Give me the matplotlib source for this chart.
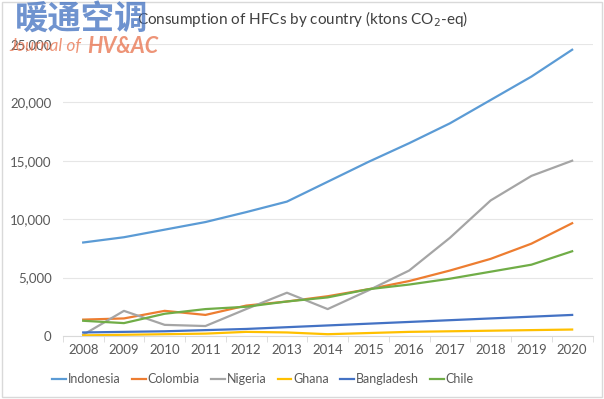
import matplotlib.pyplot as plt
from matplotlib.patches import Rectangle

years = [2008, 2009, 2010, 2011, 2012, 2013, 2014, 2015, 2016, 2017, 2018, 2019, 2020]
indonesia = [8000, 8450, 9100, 9750, 10600, 11500, 13200, 14900, 16500, 18200, 20200, 22200, 24500]
colombia = [1400, 1500, 2150, 1800, 2600, 2950, 3400, 4000, 4700, 5600, 6600, 7900, 9650]
nigeria = [100, 2150, 950, 850, 2300, 3700, 2300, 3900, 5600, 8400, 11600, 13700, 15000]
ghana = [50, 100, 150, 200, 350, 300, 150, 250, 350, 400, 450, 500, 550]
bangladesh = [300, 350, 400, 500, 600, 750, 900, 1050, 1200, 1350, 1500, 1650, 1800]
chile = [1300, 1100, 1900, 2300, 2500, 2950, 3300, 4000, 4400, 4900, 5500, 6100, 7250]

series = [("Indonesia", indonesia, "#5B9BD5"),
          ("Colombia", colombia, "#ED7D31"),
          ("Nigeria", nigeria, "#A5A5A5"),
          ("Ghana", ghana, "#FFC000"),
          ("Bangladesh", bangladesh, "#4472C4"),
          ("Chile", chile, "#70AD47")]

plt.rcParams['font.family'] = ['Lato', 'DejaVu Sans']
txt = "#595959"

fig = plt.figure(figsize=(6.04, 3.99), dpi=100)
ax = fig.add_axes([0.104, 0.158, 0.877, 0.732])

x = list(range(len(years)))
for name, vals, col in series:
    ax.plot(x, vals, color=col, lw=1.6, label=name)

ax.set_xlim(-0.5, len(years) - 0.5)
ax.set_ylim(0, 25000)
ax.set_yticks(range(0, 25001, 5000))
ax.set_yticklabels([f"{v:,}" for v in range(0, 25001, 5000)])
ax.set_xticks(x)
ax.set_xticklabels([str(y) for y in years])
ax.set_xticks([i - 0.5 for i in range(len(years) + 1)], minor=True)
ax.tick_params(axis='x', which='major', length=0, pad=6, labelsize=9.5, colors=txt)
ax.tick_params(axis='x', which='minor', length=4, color="#d9d9d9")
ax.tick_params(axis='y', length=0, pad=8, labelsize=9.5, colors=txt)
ax.grid(axis='y', color="#e6e6e6", lw=0.8)
ax.set_axisbelow(True)
for s in ['top', 'right', 'left']:
    ax.spines[s].set_visible(False)
ax.spines['bottom'].set_color("#d9d9d9")

fig.text(0.5, 0.953, "Consumption of HFCs by country (ktons CO$_2$-eq)",
         ha='center', va='center', fontsize=11, color="#404040")

ax.legend(loc='center', bbox_to_anchor=(0.378, -0.148), ncol=6, frameon=False,
          fontsize=9, labelcolor=txt, handlelength=1.1, handletextpad=0.15,
          columnspacing=0.9)

# watermark
fig.text(0.024, 0.953, "暖通空调", fontsize=24, fontweight='bold', color="#3f6fc0",
         alpha=0.75, family=['Noto Sans CJK SC'], va='center', ha='left')
fig.text(0.016, 0.884, "Journal of ", fontsize=12.5, color="#e8704a", alpha=0.75,
         style='italic', va='center', ha='left')
fig.text(0.145, 0.884, "HV&AC", fontsize=15.5, fontweight='bold', color="#e8704a",
         alpha=0.75, style='italic', va='center', ha='left')

fig.add_artist(Rectangle((0.003, 0.005), 0.994, 0.99, transform=fig.transFigure,
                         fill=False, ec="#d9d9d9", lw=1))

fig.savefig("out.png", dpi=100)
